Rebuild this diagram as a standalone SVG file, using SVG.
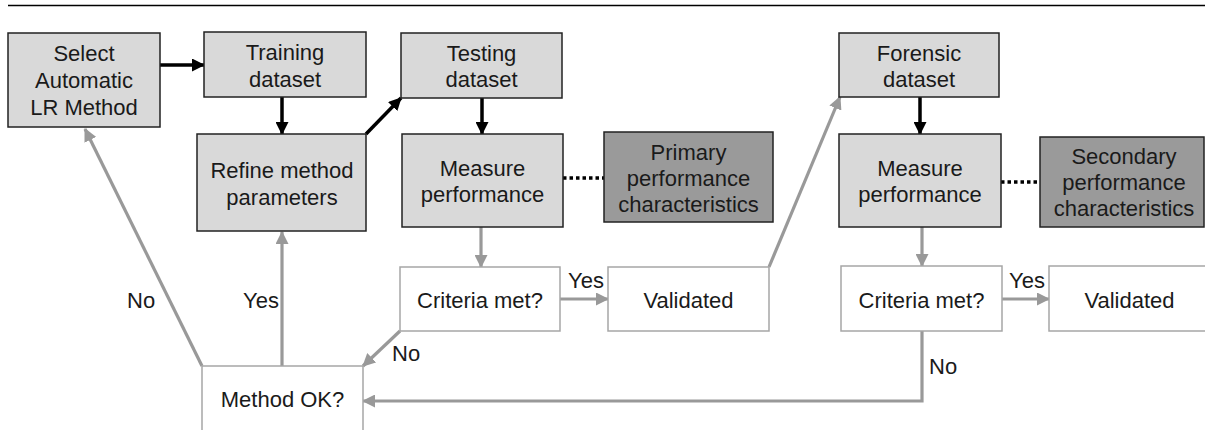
<svg xmlns="http://www.w3.org/2000/svg" width="1205" height="430" viewBox="0 0 1205 430">
<style>
text{font-family:"Liberation Sans",Arial,Helvetica,sans-serif;font-size:22px;fill:#1a1a1a;text-anchor:middle}
.lbl{text-anchor:start}
.g rect{fill:#d9d9d9;stroke:#222;stroke-width:1.5}
.d rect{fill:#9a9a9a;stroke:#222;stroke-width:1.5}
.w rect{fill:#fff;stroke:#a6a6a6;stroke-width:1.5}
.blk{stroke:#000;stroke-width:3.5;fill:none}
.gry{stroke:#999;stroke-width:3.2;fill:none}
.dot{stroke:#000;stroke-width:3.5;stroke-dasharray:3.5 3;fill:none}
</style>
<defs>
<marker id="ab" markerUnits="userSpaceOnUse" markerWidth="13" markerHeight="13" refX="12" refY="6.5" orient="auto"><path d="M0,0 L13,6.5 L0,13 z" fill="#000"/></marker>
<marker id="ag" markerUnits="userSpaceOnUse" markerWidth="13" markerHeight="13" refX="12" refY="6.5" orient="auto"><path d="M0,0 L13,6.5 L0,13 z" fill="#999"/></marker>
</defs>
<line x1="8" y1="5.5" x2="1205" y2="5.5" stroke="#000" stroke-width="1.5"/>
<g id="connectors">
<line class="blk" x1="160" y1="65" x2="204" y2="65" marker-end="url(#ab)"/>
<line class="blk" x1="282" y1="97" x2="282" y2="134" marker-end="url(#ab)"/>
<line class="blk" x1="366" y1="134" x2="401" y2="98" marker-end="url(#ab)"/>
<line class="blk" x1="482" y1="98" x2="482" y2="134" marker-end="url(#ab)"/>
<line class="blk" x1="920" y1="97" x2="920" y2="134" marker-end="url(#ab)"/>
<line class="dot" x1="563" y1="178" x2="604" y2="178"/>
<line class="dot" x1="1001" y1="182" x2="1040" y2="182"/>
<line class="gry" x1="481" y1="227" x2="481" y2="267" marker-end="url(#ag)"/>
<line class="gry" x1="560" y1="299" x2="608" y2="299" marker-end="url(#ag)"/>
<line class="gry" x1="769" y1="267" x2="840" y2="97" marker-end="url(#ag)"/>
<line class="gry" x1="922" y1="227" x2="922" y2="266" marker-end="url(#ag)"/>
<line class="gry" x1="1002" y1="299" x2="1049" y2="299" marker-end="url(#ag)"/>
<polyline class="gry" points="922,331 922,401 363,401" marker-end="url(#ag)"/>
<line class="gry" x1="400" y1="331" x2="363" y2="366" marker-end="url(#ag)"/>
<line class="gry" x1="282" y1="366" x2="282" y2="232" marker-end="url(#ag)"/>
<line class="gry" x1="202" y1="366" x2="85" y2="129" marker-end="url(#ag)"/>
<text class="lbl" x="127" y="308">No</text>
<text class="lbl" x="243" y="308">Yes</text>
<text class="lbl" x="568" y="288">Yes</text>
<text class="lbl" x="392" y="361">No</text>
<text class="lbl" x="929" y="374">No</text>
<text class="lbl" x="1009" y="288">Yes</text>
</g>
<g id="select" class="g"><rect x="8" y="33" width="152" height="94"/><text x="84" y="61">Select</text><text x="84" y="88">Automatic</text><text x="84" y="115">LR Method</text></g>
<g id="training" class="g"><rect x="204" y="32" width="162" height="65"/><text x="285" y="60">Training</text><text x="285" y="87">dataset</text></g>
<g id="testing" class="g"><rect x="401" y="33" width="161" height="65"/><text x="481.5" y="61">Testing</text><text x="481.5" y="87">dataset</text></g>
<g id="refine" class="g"><rect x="197" y="134" width="169" height="97"/><text x="282" y="178">Refine method</text><text x="282" y="205">parameters</text></g>
<g id="measure1" class="g"><rect x="402" y="134" width="161" height="93"/><text x="482.5" y="176">Measure</text><text x="482.5" y="202">performance</text></g>
<g id="primary" class="d"><rect x="604" y="132" width="169" height="90"/><text x="688.5" y="160">Primary</text><text x="688.5" y="186">performance</text><text x="688.5" y="212">characteristics</text></g>
<g id="forensic" class="g"><rect x="839" y="33" width="160" height="64"/><text x="919" y="61">Forensic</text><text x="919" y="87">dataset</text></g>
<g id="measure2" class="g"><rect x="839" y="134" width="162" height="93"/><text x="920" y="176">Measure</text><text x="920" y="202">performance</text></g>
<g id="secondary" class="d"><rect x="1040" y="137" width="164" height="90"/><text x="1124" y="164">Secondary</text><text x="1124" y="190">performance</text><text x="1124" y="216">characteristics</text></g>
<g id="criteria1" class="w"><rect x="400" y="267" width="160" height="64"/><text x="480" y="308">Criteria met?</text></g>
<g id="validated1" class="w"><rect x="608" y="267" width="161" height="64"/><text x="688.5" y="308">Validated</text></g>
<g id="criteria2" class="w"><rect x="841" y="266" width="161" height="65"/><text x="921.5" y="308">Criteria met?</text></g>
<g id="validated2" class="w"><rect x="1049" y="266" width="170" height="65"/><text x="1129.5" y="308">Validated</text></g>
<g id="methodok" class="w"><rect x="202" y="366" width="161" height="80"/><text x="282.5" y="407">Method OK?</text></g>
</svg>
